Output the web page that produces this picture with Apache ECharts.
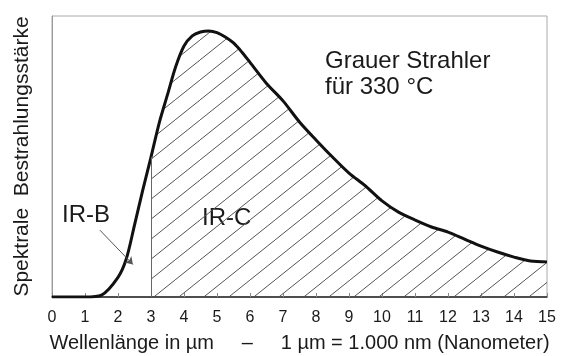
<!DOCTYPE html>
<html>
<head>
<meta charset="utf-8">
<script src="https://cdn.jsdelivr.net/npm/echarts@6/dist/echarts.min.js"></script>
<style>
  html, body { margin: 0; padding: 0; background: #fff; }
  #chart { width: 570px; height: 356px; }
</style>
</head>
<body>
<div id="chart"></div>
<script>
// Wellenlänge (µm) und relative spektrale Bestrahlungsstärke
const wavelength = [0, 1, 1.5, 2, 2.25, 2.5, 2.75, 3, 3.25, 3.5, 3.75, 4, 4.25, 4.5, 4.75, 5, 5.25, 5.5, 5.75, 6,
  6.5, 7, 7.5, 8, 8.5, 9, 9.5, 10, 10.5, 11, 11.5, 12, 12.5, 13, 13.5, 14, 14.5, 15];
const irradiance = [0, 0, 0.7, 7, 13.5, 25.6, 38, 49.8, 62, 72, 82, 89.3, 92.9, 94.3, 94.7, 94.1, 92.5, 90.4, 87.2, 83.5,
  76, 69.8, 62.3, 55.9, 49.8, 44.1, 39.5, 34.2, 30.2, 27.4, 24.9, 23.1, 20.6, 18.1, 16, 14.2, 12.8, 12.5];
const irBorder = 3; // Grenze IR-B / IR-C

const curve = wavelength.map((x, i) => [x, irradiance[i]]);
const irC = curve.filter(p => p[0] >= irBorder);
const borderY = irradiance[wavelength.indexOf(irBorder)];

// Schraffur fuer IR-C
const hatch = document.createElement('canvas');
hatch.width = 25;
hatch.height = 20;
const ctx = hatch.getContext('2d');
ctx.strokeStyle = '#555';
ctx.lineWidth = 1;
[-25, 0, 25].forEach(dx => {
  ctx.beginPath();
  ctx.moveTo(dx, 20);
  ctx.lineTo(dx + 25, 0);
  ctx.stroke();
});

const font = 'Liberation Sans, Arial, sans-serif';

const option = {
  animation: false,
  backgroundColor: '#fff',
  grid: {
    left: 52, right: 23, top: 16, bottom: 59,
    outerBoundsMode: 'none',
    show: true,
    borderColor: '#aaa',
    borderWidth: 1
  },
  xAxis: {
    type: 'value',
    min: 0,
    max: 15,
    interval: 1,
    axisLine: { lineStyle: { color: '#222', width: 1.5 } },
    axisTick: { inside: true, length: 4, lineStyle: { color: '#888' } },
    axisLabel: { color: '#1a1a1a', fontSize: 16, margin: 13, fontFamily: font },
    splitLine: { show: false },
    name: 'Wellenlänge in µm     –     1 µm = 1.000 nm (Nanometer)',
    nameLocation: 'middle',
    nameGap: 36,
    nameTextStyle: { color: '#1a1a1a', fontSize: 20, fontFamily: font }
  },
  yAxis: {
    type: 'value',
    min: 0,
    max: 100,
    axisLine: { show: true, lineStyle: { color: '#999' } },
    axisTick: { show: false },
    axisLabel: { show: false },
    splitLine: { show: false },
    name: 'Spektrale  Bestrahlungsstärke',
    nameLocation: 'middle',
    nameGap: 19,
    nameTextStyle: { color: '#1a1a1a', fontSize: 21, fontFamily: font }
  },
  series: [
    {
      type: 'line',
      data: irC,
      smooth: 0.3,
      symbol: 'none',
      silent: true,
      lineStyle: { width: 0 },
      areaStyle: { color: { image: hatch, repeat: 'repeat' }, opacity: 1 },
      markLine: {
        silent: true,
        symbol: ['none', 'none'],
        label: { show: false },
        lineStyle: { type: 'solid', color: '#666', width: 1 },
        data: [[{ coord: [irBorder, 0] }, { coord: [irBorder, borderY] }]]
      }
    },
    {
      type: 'line',
      data: curve,
      smooth: 0.3,
      symbol: 'none',
      silent: true,
      lineStyle: { color: '#111', width: 3 },
      markLine: {
        silent: true,
        symbol: ['none', 'arrow'],
        symbolSize: 7,
        label: { show: false },
        lineStyle: { type: 'solid', color: '#555', width: 1 },
        data: [[{ coord: [1.45, 23.8] }, { coord: [2.45, 11.6] }]]
      }
    }
  ],
  graphic: [
    {
      type: 'text', left: 325, top: 48,
      style: { text: 'Grauer Strahler\nfür 330 °C', fill: '#1a1a1a', font: '24px ' + font, lineHeight: 26 }
    },
    {
      type: 'text', left: 202, top: 206,
      style: { text: 'IR-C', fill: '#1a1a1a', font: '24px ' + font }
    },
    {
      type: 'text', left: 62, top: 203,
      style: { text: 'IR-B', fill: '#1a1a1a', font: '24px ' + font }
    }
  ]
};

echarts.init(document.getElementById('chart')).setOption(option);
</script>
</body>
</html>
